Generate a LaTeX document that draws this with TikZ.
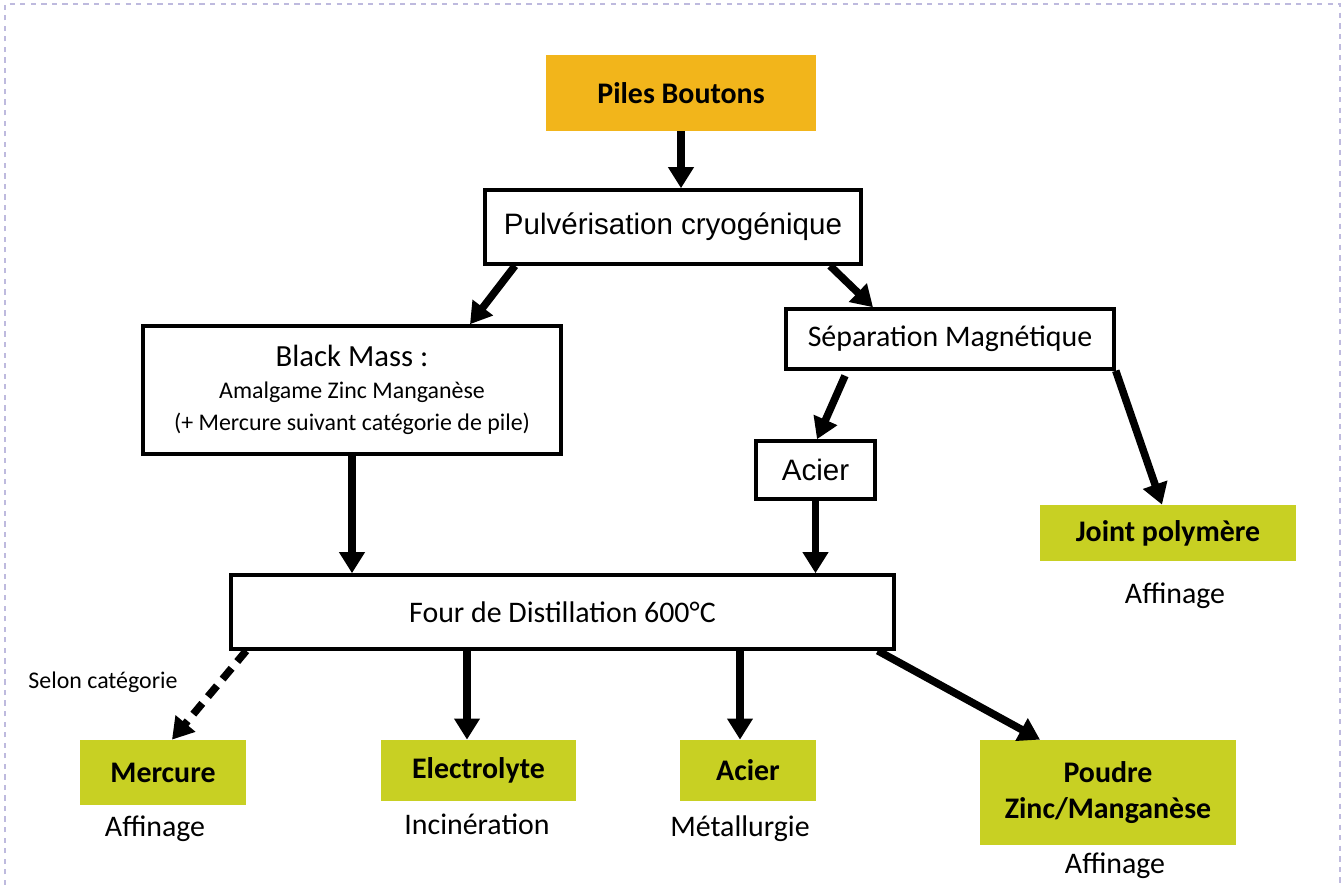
\documentclass[tikz,border=0pt]{standalone}
\usepackage{fontspec}
\setmainfont{Carlito}
\newfontfamily\arialfont{Liberation Sans}
\usetikzlibrary{arrows.meta}
\definecolor{orangepile}{RGB}{242,181,27}
\definecolor{vertprod}{RGB}{200,208,35}
\definecolor{cadre}{RGB}{190,186,222}

\begin{document}
\begin{tikzpicture}[
		etape/.style={draw, line width=2pt, align=center, inner sep=0pt, font=\fontsize{17}{20}\selectfont},
		produit/.style={fill=vertprod, align=center, inner sep=0pt, font=\bfseries\fontsize{17}{20}\selectfont},
		sortie/.style={font=\fontsize{17}{20}\selectfont},
		fleche/.style={line width=4.3pt, -{Triangle[width=14pt,length=12pt]}}
	]
		\useasboundingbox (0,0) rectangle (26.84,17.7);
		\draw[cadre, dashed, line width=0.8pt] (0.1,0) -- (0.1,17.62) -- (26.8,17.62) -- (26.8,0);
		% etapes du procede
		\node[produit, fill=orangepile, minimum width=5.4cm, minimum height=1.52cm] (piles) at (13.62,15.84) {Piles Boutons};
		\node[etape, font=\arialfont\fontsize{16.8}{20}\selectfont, minimum width=7.52cm, minimum height=1.48cm] (pulv) at (13.46,13.16) {Pulvérisation cryogénique};
		\node[etape, font=\fontsize{13.6}{18}\selectfont, minimum width=8.36cm, minimum height=2.56cm] (bm) at (7.04,9.9) {{\fontsize{17.5}{18}\selectfont Black Mass :}\\Amalgame Zinc Manganèse\\(+ Mercure suivant catégorie de pile)};
		\node[etape, minimum width=6.56cm, minimum height=1.2cm] (sep) at (19.0,10.92) {Séparation Magnétique};
		\node[etape, font=\arialfont\fontsize{16.8}{20}\selectfont, minimum width=2.38cm, minimum height=1.16cm] (acier) at (16.31,8.3) {Acier};
		\node[produit, minimum width=5.12cm, minimum height=1.12cm] (joint) at (23.36,7.04) {Joint polymère};
		\node[sortie] (affjoint) at (23.5,5.78) {Affinage};
		\node[etape, minimum width=13.26cm, minimum height=1.48cm] (four) at (11.25,5.46) {Four de Distillation 600°C};
		\node[font=\fontsize{13.6}{16}\selectfont] (selon) at (2.06,4.06) {Selon catégorie};
		% produits finaux
		\node[produit, minimum width=3.32cm, minimum height=1.3cm] (merc) at (3.26,2.25) {Mercure};
		\node[sortie] (affmerc) at (3.1,1.12) {Affinage};
		\node[produit, minimum width=3.9cm, minimum height=1.22cm] (elec) at (9.57,2.29) {Electrolyte};
		\node[sortie] (incin) at (9.54,1.22) {Incinération};
		\node[produit, minimum width=2.72cm, minimum height=1.22cm] (acier2) at (14.96,2.29) {Acier};
		\node[sortie] (metal) at (14.8,1.12) {Métallurgie};
		\node[produit, minimum width=5.12cm, minimum height=2.1cm] (poudre) at (22.16,1.85) {Poudre\\Zinc/Manganèse};
		\node[sortie] (affpoudre) at (22.3,0.38) {Affinage};
		% fleches
		\draw[fleche] (piles.south) -- (piles.south |- pulv.north);
		\draw[fleche] ([xshift=-3.16cm]pulv.south) -- ([xshift=2.36cm]bm.north);
		\draw[fleche] ([xshift=3.14cm]pulv.south) -- ([xshift=-1.54cm]sep.north);
		\draw[fleche] ([xshift=-2.1cm,yshift=-0.1cm]sep.south) -- ([xshift=0.03cm]acier.north);
		\draw[fleche] (sep.south east) -- ([xshift=-0.12cm]joint.north);
		\draw[fleche] (bm.south) -- (bm.south |- four.north);
		\draw[fleche] (acier.south) -- (acier.south |- four.north);
		\draw[fleche, dash pattern=on 8pt off 5pt] ([xshift=0.34cm]four.south west) -- ([xshift=0.18cm]merc.north);
		\draw[fleche] ([xshift=-1.91cm]four.south) -- ([xshift=-1.91cm]four.south |- elec.north);
		\draw[fleche] ([xshift=3.55cm]four.south) -- ([xshift=3.55cm]four.south |- acier2.north);
		\draw[fleche] ([xshift=-0.36cm]four.south east) -- ([xshift=-1.36cm]poudre.north);
	\end{tikzpicture}
\end{document}
